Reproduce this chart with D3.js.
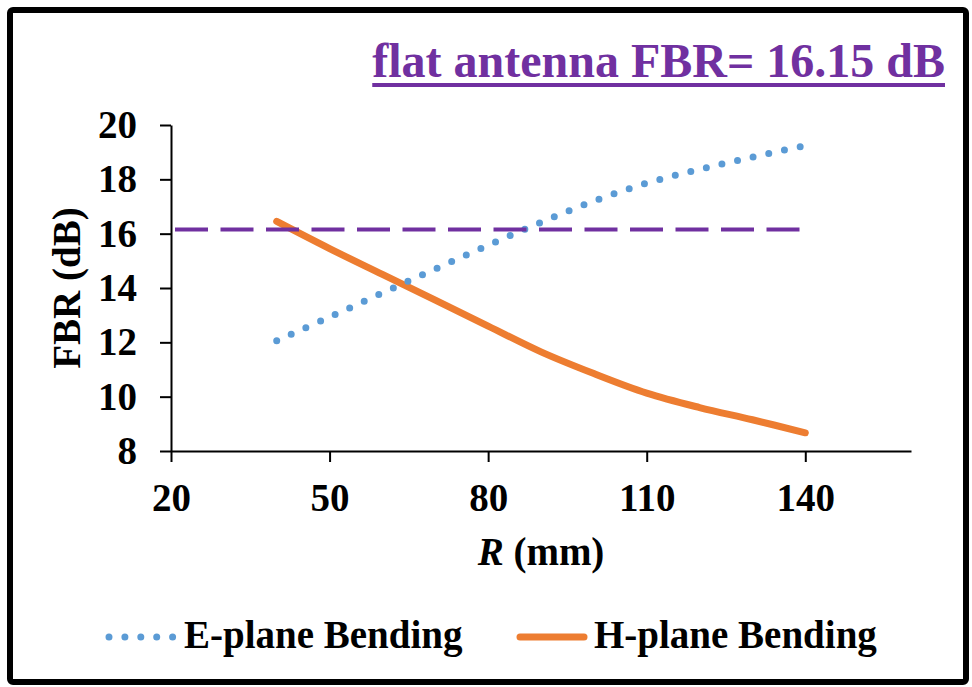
<!DOCTYPE html>
<html>
<head>
<meta charset="utf-8">
<script src="https://cdn.jsdelivr.net/npm/d3@7"></script>
<style>
  html, body { margin: 0; padding: 0; background: #fff; }
  svg { display: block; font-family: "Liberation Serif", "Times New Roman", serif; font-weight: bold; }
</style>
</head>
<body>
<svg id="chart" width="972" height="687"></svg>
<script>
// Bend radius (mm) and front-to-back ratio (dB) for both bending planes
const radius = [40, 50, 60, 70, 80, 90, 100, 110, 120, 130, 140];
const ePlane = [12.06, 12.93, 13.82, 14.70, 15.57, 16.42, 17.20, 17.86, 18.37, 18.82, 19.24];
const hPlane = [16.45, 15.45, 14.50, 13.55, 12.60, 11.65, 10.85, 10.13, 9.60, 9.15, 8.67];
const flatFBR = 16.15;
const xTicks = [20, 50, 80, 110, 140];
const yTicks = [8, 10, 12, 14, 16, 18, 20];
const seriesNames = ["E-plane Bending", "H-plane Bending"];
const titleText = "flat antenna FBR= 16.15 dB";

const colors = { e: "#5B9BD5", h: "#ED7D31", flat: "#7030A0" };

const svg = d3.select("#chart");

// outer frame
svg.append("rect")
  .attr("x", 10).attr("y", 10)
  .attr("width", 956).attr("height", 672)
  .attr("rx", 3)
  .attr("fill", "#fff").attr("stroke", "#000").attr("stroke-width", 6);

const x = d3.scaleLinear().domain([20, 160]).range([171, 911]);
const y = d3.scaleLinear().domain([8, 20]).range([451, 125]);

// title with underline
const title = svg.append("text")
  .attr("x", 945).attr("y", 77)
  .attr("text-anchor", "end")
  .attr("fill", colors.flat)
  .style("font-size", "48px")
  .text(titleText);
const tb = title.node().getBBox();
svg.append("line")
  .attr("x1", tb.x).attr("x2", tb.x + tb.width)
  .attr("y1", 85).attr("y2", 85)
  .attr("stroke", colors.flat).attr("stroke-width", 4);

// axes
const yAxis = svg.append("g")
  .attr("transform", `translate(${x(20)},0)`)
  .call(d3.axisLeft(y).tickValues(yTicks).tickSize(11).tickSizeOuter(0).tickPadding(23).tickFormat(d3.format("d")));
const xAxis = svg.append("g")
  .attr("transform", `translate(0,${y(8)})`)
  .call(d3.axisBottom(x).tickValues(xTicks).tickSize(11).tickSizeOuter(0).tickFormat(d3.format("d")));

[yAxis, xAxis].forEach(g => {
  g.select(".domain").attr("stroke", "#000").attr("stroke-width", 2);
  g.selectAll(".tick line").attr("stroke", "#000").attr("stroke-width", 2);
  g.selectAll(".tick text")
    .attr("fill", "#000")
    .style("font-family", "'Liberation Serif', 'Times New Roman', serif")
    .style("font-weight", "bold")
    .style("font-size", "39px");
});
xAxis.selectAll(".tick text").attr("y", 60).attr("dy", 0);

// axis titles
svg.append("text")
  .attr("transform", `translate(80,${(y(8) + y(20)) / 2}) rotate(-90)`)
  .attr("text-anchor", "middle")
  .style("font-size", "39px")
  .text("FBR (dB)");

const xt = svg.append("text")
  .attr("x", x(90)).attr("y", 565)
  .attr("text-anchor", "middle")
  .style("font-size", "39px");
xt.append("tspan").style("font-style", "italic").text("R");
xt.append("tspan").text(" (mm)");

// series
const eData = radius.map((r, i) => [r, ePlane[i]]);
const hData = radius.map((r, i) => [r, hPlane[i]]);
const line = d3.line().x(d => x(d[0])).y(d => y(d[1])).curve(d3.curveCatmullRom.alpha(0.5));

svg.append("path")
  .datum(hData)
  .attr("d", line)
  .attr("fill", "none")
  .attr("stroke", colors.h)
  .attr("stroke-width", 7)
  .attr("stroke-linecap", "round")
  .attr("stroke-linejoin", "round");

svg.append("path")
  .datum(eData)
  .attr("d", line)
  .attr("fill", "none")
  .attr("stroke", colors.e)
  .attr("stroke-width", 7)
  .attr("stroke-linecap", "round")
  .attr("stroke-dasharray", "0,16");

// flat antenna reference level
svg.append("line")
  .attr("x1", x(20) + 4).attr("x2", x(140))
  .attr("y1", y(flatFBR)).attr("y2", y(flatFBR))
  .attr("stroke", colors.flat)
  .attr("stroke-width", 4)
  .attr("stroke-dasharray", "33,12.5");

// legend
const legendY = 637;
svg.append("line")
  .attr("x1", 109).attr("x2", 173)
  .attr("y1", legendY).attr("y2", legendY)
  .attr("stroke", colors.e).attr("stroke-width", 7)
  .attr("stroke-linecap", "round").attr("stroke-dasharray", "0,15.9");
svg.append("text").attr("x", 184).attr("y", 648)
  .style("font-size", "39px").text(seriesNames[0]);

svg.append("line")
  .attr("x1", 520).attr("x2", 584)
  .attr("y1", legendY).attr("y2", legendY)
  .attr("stroke", colors.h).attr("stroke-width", 7)
  .attr("stroke-linecap", "round");
svg.append("text").attr("x", 594).attr("y", 648)
  .style("font-size", "39px").text(seriesNames[1]);
</script>
</body>
</html>
